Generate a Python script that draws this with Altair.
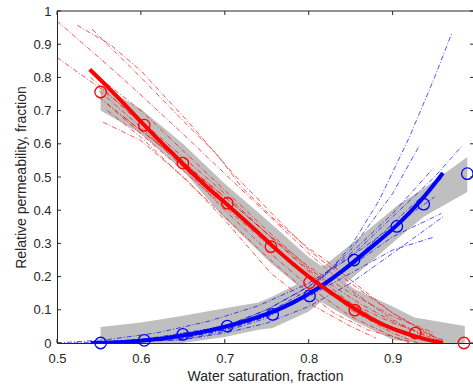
import altair as alt
import pandas as pd

# ---------------- data ----------------
x_ticks = [0.5, 0.6, 0.7, 0.8, 0.9]
y_ticks = [0, 0.1, 0.2, 0.3, 0.4, 0.5, 0.6, 0.7, 0.8, 0.9, 1.0]

# measured points (circles)
oil_pts_S = [0.552, 0.604, 0.650, 0.703, 0.755, 0.801, 0.855, 0.927, 0.985]
oil_pts_kr = [0.756, 0.656, 0.542, 0.421, 0.290, 0.182, 0.099, 0.030, 0.0]
wat_pts_S = [0.552, 0.604, 0.650, 0.703, 0.757, 0.801, 0.854, 0.905, 0.937, 0.989]
wat_pts_kr = [0.0, 0.008, 0.026, 0.051, 0.086, 0.142, 0.250, 0.351, 0.418, 0.510]

# thick fitted curves
oil_fit_S = [0.539, 0.56, 0.58, 0.60, 0.62, 0.64, 0.66, 0.68, 0.70, 0.72, 0.74,
             0.76, 0.78, 0.80, 0.82, 0.84, 0.86, 0.88, 0.90, 0.92, 0.94, 0.96]
oil_fit_kr = [0.824, 0.772, 0.720, 0.667, 0.615, 0.565, 0.515, 0.467, 0.423, 0.378, 0.332,
              0.285, 0.241, 0.200, 0.163, 0.128, 0.095, 0.066, 0.043, 0.026, 0.011, 0.0]
wat_fit_S = [0.54, 0.56, 0.58, 0.60, 0.62, 0.64, 0.66, 0.68, 0.70, 0.72, 0.74,
             0.76, 0.78, 0.80, 0.82, 0.84, 0.86, 0.88, 0.90, 0.92, 0.94, 0.96]
wat_fit_kr = [0.0, 0.001, 0.003, 0.007, 0.012, 0.019, 0.027, 0.037, 0.049, 0.063, 0.079,
              0.097, 0.120, 0.148, 0.180, 0.217, 0.258, 0.300, 0.343, 0.392, 0.448, 0.512]

# grey uncertainty bands
oil_band_S = [0.552, 0.60, 0.65, 0.70, 0.755, 0.80, 0.855, 0.90, 0.926, 0.986]
oil_band_up = [0.775, 0.705, 0.600, 0.480, 0.360, 0.258, 0.162, 0.110, 0.077, 0.051]
oil_band_lo = [0.700, 0.630, 0.520, 0.375, 0.240, 0.145, 0.065, 0.010, 0.0, 0.0]
wat_band_S = [0.552, 0.60, 0.65, 0.70, 0.740, 0.757, 0.80, 0.854, 0.906, 0.937, 0.989]
wat_band_up = [0.048, 0.062, 0.082, 0.105, 0.122, 0.140, 0.195, 0.305, 0.415, 0.465, 0.560]
wat_band_lo = [0.0, 0.0, 0.0, 0.018, 0.040, 0.045, 0.095, 0.200, 0.315, 0.380, 0.455]

# thin dash-dot realisations
oil_runs_S = [
    [0.50, 0.55, 0.59, 0.65, 0.70, 0.75, 0.80, 0.85, 0.90, 0.94],
    [0.50, 0.55, 0.60, 0.65, 0.70, 0.75, 0.80, 0.85, 0.90, 0.93],
    [0.524, 0.563, 0.60, 0.655, 0.71, 0.76, 0.80, 0.85, 0.90, 0.95],
    [0.542, 0.60, 0.65, 0.69, 0.72, 0.76, 0.80, 0.82, 0.86, 0.90, 0.94, 0.96],
    [0.555, 0.60, 0.655, 0.70, 0.755, 0.80, 0.85, 0.88],
    [0.54, 0.60, 0.65, 0.70, 0.75, 0.80, 0.85, 0.90, 0.95],
    [0.55, 0.60, 0.65, 0.70, 0.75, 0.80, 0.85, 0.90, 0.92],
    [0.55, 0.60, 0.65, 0.70, 0.75, 0.80, 0.83, 0.86, 0.90, 0.93, 0.958],
    [0.56, 0.60, 0.65, 0.70, 0.75, 0.80, 0.85, 0.90, 0.96],
    [0.55, 0.60, 0.65, 0.70, 0.75, 0.80, 0.85, 0.90, 0.93],
    [0.56, 0.60, 0.65, 0.70, 0.75, 0.80, 0.83, 0.87, 0.92],
    [0.58, 0.65, 0.70, 0.75, 0.80, 0.85, 0.90, 0.95],
]
oil_runs_kr = [
    [0.97, 0.86, 0.77, 0.63, 0.51, 0.39, 0.27, 0.16, 0.07, 0.02],
    [0.86, 0.77, 0.67, 0.56, 0.45, 0.33, 0.22, 0.12, 0.04, 0.01],
    [0.957, 0.90, 0.82, 0.67, 0.51, 0.38, 0.28, 0.18, 0.09, 0.02],
    [0.945, 0.80, 0.67, 0.57, 0.47, 0.37, 0.285, 0.25, 0.17, 0.09, 0.03, 0.005],
    [0.665, 0.61, 0.49, 0.37, 0.21, 0.12, 0.05, 0.015],
    [0.80, 0.66, 0.55, 0.43, 0.31, 0.20, 0.11, 0.04, 0.005],
    [0.76, 0.65, 0.53, 0.40, 0.28, 0.17, 0.08, 0.02, 0.0],
    [0.80, 0.70, 0.58, 0.46, 0.34, 0.225, 0.17, 0.12, 0.065, 0.03, 0.006],
    [0.72, 0.63, 0.52, 0.41, 0.30, 0.20, 0.12, 0.06, 0.01],
    [0.74, 0.64, 0.545, 0.44, 0.33, 0.215, 0.10, 0.03, 0.0],
    [0.70, 0.62, 0.50, 0.38, 0.26, 0.15, 0.09, 0.04, 0.005],
    [0.68, 0.54, 0.44, 0.33, 0.23, 0.15, 0.08, 0.03],
]
wat_runs_S = [
    [0.55, 0.65, 0.70, 0.75, 0.80, 0.85, 0.884, 0.92, 0.95, 0.971],
    [0.52, 0.60, 0.70, 0.75, 0.80, 0.85, 0.90, 0.932],
    [0.55, 0.65, 0.70, 0.75, 0.80, 0.85, 0.90, 0.95, 0.983],
    [0.54, 0.65, 0.70, 0.75, 0.80, 0.85, 0.90, 0.948],
    [0.55, 0.65, 0.70, 0.75, 0.80, 0.85, 0.90, 0.948],
    [0.55, 0.65, 0.70, 0.75, 0.80, 0.85, 0.90, 0.958],
    [0.50, 0.56, 0.62, 0.68, 0.74, 0.80, 0.85, 0.90, 0.95],
    [0.56, 0.65, 0.70, 0.75, 0.80, 0.85, 0.90, 0.96],
    [0.55, 0.65, 0.70, 0.75, 0.80, 0.85, 0.90, 0.96],
]
wat_runs_kr = [
    [0.0, 0.01, 0.035, 0.075, 0.15, 0.29, 0.43, 0.62, 0.80, 0.936],
    [0.0, 0.01, 0.05, 0.09, 0.16, 0.28, 0.45, 0.595],
    [0.0, 0.02, 0.05, 0.10, 0.17, 0.26, 0.38, 0.50, 0.595],
    [0.0, 0.02, 0.05, 0.10, 0.17, 0.27, 0.39, 0.525],
    [0.0, 0.015, 0.04, 0.08, 0.14, 0.21, 0.28, 0.318],
    [0.0, 0.02, 0.045, 0.09, 0.15, 0.23, 0.32, 0.39],
    [0.0, 0.01, 0.031, 0.065, 0.112, 0.18, 0.26, 0.35, 0.44],
    [0.0, 0.01, 0.03, 0.06, 0.11, 0.18, 0.27, 0.38],
    [0.0, 0.015, 0.04, 0.08, 0.145, 0.24, 0.36, 0.50],
]

# ---------------- tables ----------------
def runs_df(S_lists, k_lists):
    rows = []
    for i, (ss, kk) in enumerate(zip(S_lists, k_lists)):
        for s, k in zip(ss, kk):
            rows.append({"S": s, "kr": k, "run": i})
    return pd.DataFrame(rows)

oil_runs = runs_df(oil_runs_S, oil_runs_kr)
wat_runs = runs_df(wat_runs_S, wat_runs_kr)
oil_fit = pd.DataFrame({"S": oil_fit_S, "kr": oil_fit_kr})
wat_fit = pd.DataFrame({"S": wat_fit_S, "kr": wat_fit_kr})
oil_pts = pd.DataFrame({"S": oil_pts_S, "kr": oil_pts_kr})
wat_pts = pd.DataFrame({"S": wat_pts_S, "kr": wat_pts_kr})
oil_band = pd.DataFrame({"S": oil_band_S, "kr": oil_band_up, "lo": oil_band_lo})
wat_band = pd.DataFrame({"S": wat_band_S, "kr": wat_band_up, "lo": wat_band_lo})
xt = pd.DataFrame({"S": x_ticks})
yt = pd.DataFrame({"kr": y_ticks})
one = pd.DataFrame({"S": [0.5]})

W, H = 416, 332
AX = "#262626"
RED = "#ff0000"
BLUE = "#0000ff"
GREY = "#bfbfbf"
FONT = "Liberation Sans"

xscale = alt.Scale(domain=[0.5, 0.9958], nice=False, zero=False)
yscale = alt.Scale(domain=[0, 1], nice=False, zero=False)
xaxis = alt.Axis(values=x_ticks, format="~g", title="Water saturation, fraction",
                 labelBaseline="alphabetic", labelPadding=19, labelFlush=False,
                 titleBaseline="alphabetic", titleY=37, titlePadding=0)
yaxis = alt.Axis(values=y_ticks, format="~g", title="Relative permeability, fraction",
                 labelPadding=6, labelFlush=False, titleAngle=270,
                 titleBaseline="alphabetic", titleX=-32, titleY=H / 2)

X = alt.X("S:Q", scale=xscale, axis=xaxis)
Y = alt.Y("kr:Q", scale=yscale, axis=yaxis)

bands = [
    alt.Chart(d).mark_area(color=GREY, opacity=1, clip=True).encode(
        x=X, y=Y, y2=alt.Y2("lo:Q"))
    for d in (oil_band, wat_band)
]

dash = [5, 2, 1, 2]
wat_thin = alt.Chart(wat_runs).mark_line(color=BLUE, strokeWidth=0.8, strokeDash=dash,
                                         opacity=0.85, clip=True).encode(
    x=X, y=Y, detail="run:N")
oil_thin = alt.Chart(oil_runs).mark_line(color=RED, strokeWidth=0.8, strokeDash=dash,
                                         opacity=0.85, clip=True).encode(
    x=X, y=Y, detail="run:N")

wat_thick = alt.Chart(wat_fit).mark_line(color=BLUE, strokeWidth=4, interpolate="monotone",
                                         clip=True).encode(x=X, y=Y)
oil_thick = alt.Chart(oil_fit).mark_line(color=RED, strokeWidth=4, interpolate="monotone",
                                         clip=True).encode(x=X, y=Y)

wat_circ = alt.Chart(wat_pts).mark_point(shape="circle", filled=False, size=132,
                                         strokeWidth=1.3, color=BLUE, opacity=1).encode(x=X, y=Y)
oil_circ = alt.Chart(oil_pts).mark_point(shape="circle", filled=False, size=132,
                                         strokeWidth=1.3, color=RED, opacity=1).encode(x=X, y=Y)

# box border and inward ticks (MATLAB style)
top_line = alt.Chart(one).mark_rule(color=AX, strokeWidth=1).encode(
    x=alt.value(0), x2=alt.value(W), y=alt.value(0))
top_ticks = alt.Chart(xt).mark_rule(color=AX, strokeWidth=1).encode(
    x=X, y=alt.value(0), y2=alt.value(4))
bot_ticks = alt.Chart(xt).mark_rule(color=AX, strokeWidth=1).encode(
    x=X, y=alt.value(H), y2=alt.value(H - 4))
left_ticks = alt.Chart(yt).mark_rule(color=AX, strokeWidth=1).encode(
    y=Y, x=alt.value(0), x2=alt.value(4))
right_ticks = alt.Chart(yt).mark_rule(color=AX, strokeWidth=1).encode(
    y=Y, x=alt.value(W - 3), x2=alt.value(W))

chart = alt.layer(
    *bands, wat_thin, oil_thin, wat_thick, oil_thick, wat_circ, oil_circ,
    top_line, top_ticks, bot_ticks, left_ticks, right_ticks
).properties(
    width=W, height=H,
    autosize=alt.AutoSizeParams(type="none"),
    padding={"left": 57, "top": 11, "right": 0, "bottom": 42},
    background="white",
).configure_view(strokeWidth=0).configure_axis(
    grid=False, ticks=False, tickSize=0,
    domainColor=AX, domainWidth=1,
    labelColor=AX, titleColor=AX,
    labelFont=FONT, titleFont=FONT,
    labelFontSize=13, titleFontSize=14, titleFontWeight="normal",
)

chart.save("out.html", embed_options={"renderer": "svg", "actions": False})
